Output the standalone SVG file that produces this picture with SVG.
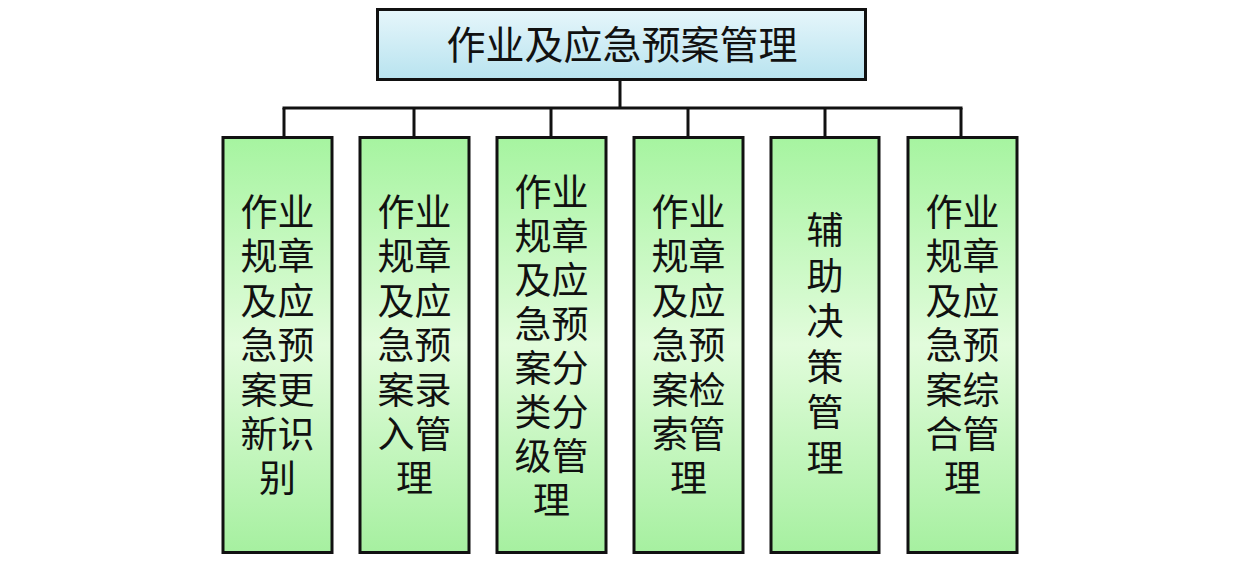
<svg xmlns="http://www.w3.org/2000/svg" width="1260" height="565" viewBox="0 0 1260 565">
<defs>
<linearGradient id="gTop" x1="0" y1="0" x2="0" y2="1">
<stop offset="0" stop-color="#e6f6fb"/>
<stop offset="1" stop-color="#b8e3ef"/>
</linearGradient>
<linearGradient id="gGreen" x1="0" y1="0" x2="0" y2="1">
<stop offset="0" stop-color="#a6f4a0"/>
<stop offset="0.5" stop-color="#e2fcdc"/>
<stop offset="1" stop-color="#a6f0a0"/>
</linearGradient>
<style>
.box{stroke:#111;stroke-width:3}
.top{fill:url(#gTop)}
.leaf{fill:url(#gGreen)}
.t{font-family:"Noto Sans CJK SC","Noto Sans CJK TC",sans-serif;fill:#111;text-anchor:middle}
.tt{font-size:39px}
.lt{font-size:37px}
.conn{stroke:#111;stroke-width:3;fill:none}
</style>
</defs>
<g id="connectors">
<line class="conn" x1="620" y1="79" x2="620" y2="108"/>
<line class="conn" x1="282.5" y1="108" x2="962.5" y2="108"/>
<line class="conn" x1="284" y1="108" x2="284" y2="137"/>
<line class="conn" x1="414" y1="108" x2="414" y2="137"/>
<line class="conn" x1="551" y1="108" x2="551" y2="137"/>
<line class="conn" x1="688" y1="108" x2="688" y2="137"/>
<line class="conn" x1="825" y1="108" x2="825" y2="137"/>
<line class="conn" x1="961" y1="108" x2="961" y2="137"/>
</g>
<g id="root">
<rect class="box top" x="377.5" y="9.5" width="488" height="70"/>
<text class="t tt" x="622" y="59">作业及应急预案管理</text>
</g>
<g id="n1">
<rect class="box leaf" x="223" y="137.5" width="109" height="415"/>
<text class="t lt"><tspan x="277.5" y="226">作业</tspan><tspan x="277.5" y="270">规章</tspan><tspan x="277.5" y="314.5">及应</tspan><tspan x="277.5" y="359">急预</tspan><tspan x="277.5" y="403.5">案更</tspan><tspan x="277.5" y="448">新识</tspan><tspan x="277.5" y="492">别</tspan></text>
</g>
<g id="n2">
<rect class="box leaf" x="360" y="137.5" width="109" height="415"/>
<text class="t lt"><tspan x="414.5" y="226">作业</tspan><tspan x="414.5" y="270">规章</tspan><tspan x="414.5" y="314.5">及应</tspan><tspan x="414.5" y="359">急预</tspan><tspan x="414.5" y="403.5">案录</tspan><tspan x="414.5" y="448">入管</tspan><tspan x="414.5" y="492">理</tspan></text>
</g>
<g id="n3">
<rect class="box leaf" x="497" y="137.5" width="109" height="415"/>
<text class="t lt"><tspan x="551.5" y="206">作业</tspan><tspan x="551.5" y="250">规章</tspan><tspan x="551.5" y="294">及应</tspan><tspan x="551.5" y="338">急预</tspan><tspan x="551.5" y="382">案分</tspan><tspan x="551.5" y="426">类分</tspan><tspan x="551.5" y="470">级管</tspan><tspan x="551.5" y="514">理</tspan></text>
</g>
<g id="n4">
<rect class="box leaf" x="634" y="137.5" width="109" height="415"/>
<text class="t lt"><tspan x="688.5" y="226">作业</tspan><tspan x="688.5" y="270">规章</tspan><tspan x="688.5" y="314.5">及应</tspan><tspan x="688.5" y="359">急预</tspan><tspan x="688.5" y="403.5">案检</tspan><tspan x="688.5" y="448">索管</tspan><tspan x="688.5" y="492">理</tspan></text>
</g>
<g id="n5">
<rect class="box leaf" x="771" y="137.5" width="108" height="415"/>
<text class="t lt"><tspan x="825" y="244">辅</tspan><tspan x="825" y="289.5">助</tspan><tspan x="825" y="335">决</tspan><tspan x="825" y="380.5">策</tspan><tspan x="825" y="426">管</tspan><tspan x="825" y="472">理</tspan></text>
</g>
<g id="n6">
<rect class="box leaf" x="908" y="137.5" width="109" height="415"/>
<text class="t lt"><tspan x="962.5" y="226">作业</tspan><tspan x="962.5" y="270">规章</tspan><tspan x="962.5" y="314.5">及应</tspan><tspan x="962.5" y="359">急预</tspan><tspan x="962.5" y="403.5">案综</tspan><tspan x="962.5" y="448">合管</tspan><tspan x="962.5" y="492">理</tspan></text>
</g>
</svg>
